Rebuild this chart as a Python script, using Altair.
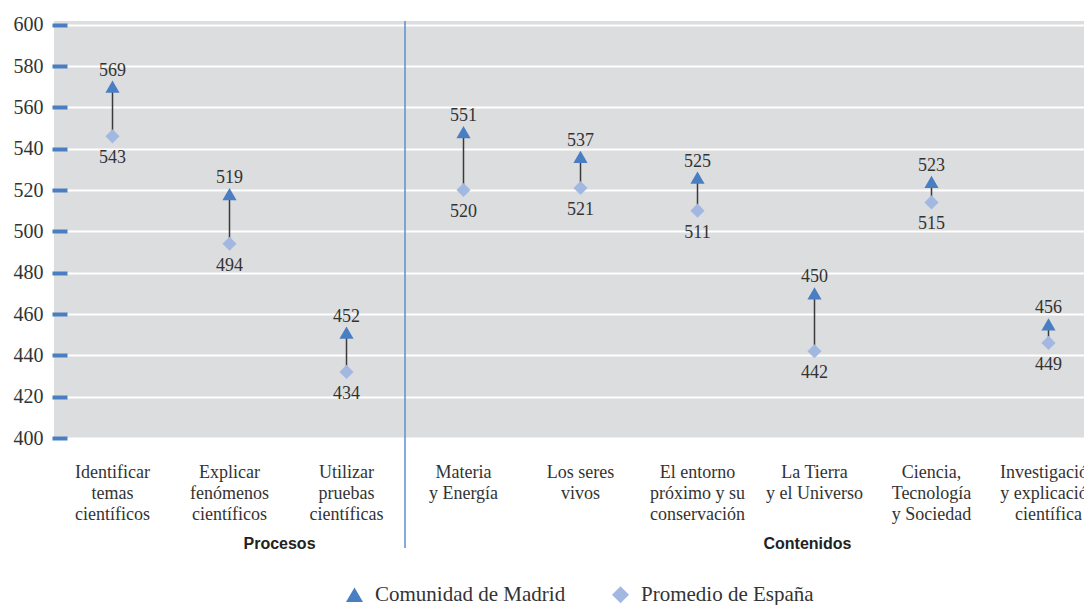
import altair as alt
import pandas as pd

categories = [
    "Identificar|temas|científicos",
    "Explicar|fenómenos|científicos",
    "Utilizar|pruebas|científicas",
    "Materia|y Energía",
    "Los seres|vivos",
    "El entorno|próximo y su|conservación",
    "La Tierra|y el Universo",
    "Ciencia,|Tecnología|y Sociedad",
    "Investigación|y explicación|científica",
]
madrid_pos = [570, 518, 451, 548, 536, 526, 470, 524, 455]
spain_pos = [546, 494, 432, 520, 521, 510, 442, 514, 446]
madrid_labels = ["569", "519", "452", "551", "537", "525", "450", "523", "456"]
spain_labels = ["543", "494", "434", "520", "521", "511", "442", "515", "449"]
series = ["Comunidad de Madrid", "Promedio de España"]
y_ticks = list(range(400, 601, 20))

SERIF = "Liberation Serif"
SANS = "Liberation Sans"
TXT = "#333333"
BLUE = "#4a7ec2"
LIGHT = "#a3b8e1"

wide = pd.DataFrame({
    "cat": categories,
    "madrid": madrid_pos,
    "spain": spain_pos,
    "mlab": madrid_labels,
    "slab": spain_labels,
})
long = pd.concat([
    pd.DataFrame({"cat": categories, "serie": series[0], "value": madrid_pos}),
    pd.DataFrame({"cat": categories, "serie": series[1], "value": spain_pos}),
])

xscale = alt.Scale(type="band", paddingInner=0, paddingOuter=0, range=[0, 1053])
X = alt.X(
    "cat:N", sort=categories, scale=xscale, title=None,
    axis=alt.Axis(
        labelExpr="split(datum.label, '|')", labelAngle=0, ticks=False, domain=False,
        grid=False, labelPadding=25, labelFont=SERIF, labelFontSize=18,
        labelLineHeight=21, labelBaseline="top", labelColor=TXT, labelLimit=0,
        labelOverlap=False, labelBound=False,
    ),
)
yscale = alt.Scale(domain=[400, 601.8], nice=False, zero=False)
Y = alt.Y(
    "spain:Q", scale=yscale, title=None,
    axis=alt.Axis(
        values=y_ticks, offset=-13, tickSize=15, tickWidth=4, tickColor=BLUE,
        domain=False, labelPadding=9, labelFont=SERIF, labelFontSize=20,
        labelColor=TXT, gridColor="white", gridWidth=2,
    ),
)

connector = alt.Chart(wide).mark_rule(color="#3a3a3a", strokeWidth=1.5).encode(
    x=X, y=Y, y2="madrid:Q"
)

points = alt.Chart(long).mark_point(filled=True, opacity=1, size=200, strokeWidth=0).encode(
    x=alt.X("cat:N", sort=categories, scale=xscale),
    y=alt.Y("value:Q", scale=yscale),
    shape=alt.Shape("serie:N", sort=series,
                    scale=alt.Scale(domain=series, range=["triangle-up", "diamond"]),
                    legend=alt.Legend(
                        title=None, orient="none", legendX=290, legendY=563,
                        direction="horizontal", labelFont=SERIF, labelFontSize=21,
                        labelColor=TXT, symbolSize=290, columnPadding=44,
                        labelOffset=10, symbolStrokeWidth=0, labelLimit=0,
                    )),
    color=alt.Color("serie:N", sort=series,
                    scale=alt.Scale(domain=series, range=[BLUE, LIGHT])),
)

mtext = alt.Chart(wide).mark_text(dy=-16, font=SERIF, fontSize=18, color=TXT).encode(
    x=alt.X("cat:N", sort=categories, scale=xscale),
    y=alt.Y("madrid:Q", scale=yscale), text="mlab:N",
)
stext = alt.Chart(wide).mark_text(dy=22, font=SERIF, fontSize=18, color=TXT).encode(
    x=alt.X("cat:N", sort=categories, scale=xscale),
    y=alt.Y("spain:Q", scale=yscale), text="slab:N",
)

divider = alt.Chart(pd.DataFrame({"cat": [categories[2]]})).mark_rule(
    color="#5b8fd0", strokeWidth=1.5
).encode(
    x=alt.X("cat:N", sort=categories, scale=xscale, bandPosition=1),
    y=alt.value(0), y2=alt.value(527),
)

g1 = alt.Chart(pd.DataFrame({"cat": [categories[1]], "g": ["Procesos"]})).mark_text(
    dx=50, font=SANS, fontWeight="bold", fontSize=16, color="#222222"
).encode(x=alt.X("cat:N", sort=categories, scale=xscale), y=alt.value(523), text="g:N")
g2 = alt.Chart(pd.DataFrame({"cat": [categories[6]], "g": ["Contenidos"]})).mark_text(
    dx=-7, font=SANS, fontWeight="bold", fontSize=16, color="#222222"
).encode(x=alt.X("cat:N", sort=categories, scale=xscale), y=alt.value(523), text="g:N")

chart = alt.layer(connector, points, mtext, stext, divider, g1, g2).properties(
    width=1030, height=417,
    autosize=alt.AutoSizeParams(type="none"),
    padding={"left": 46, "top": 13, "right": 0, "bottom": 167},
).configure_view(fill="#dcdddf", stroke=None)

chart.save("out.html", embed_options={"renderer": "svg", "actions": False})
